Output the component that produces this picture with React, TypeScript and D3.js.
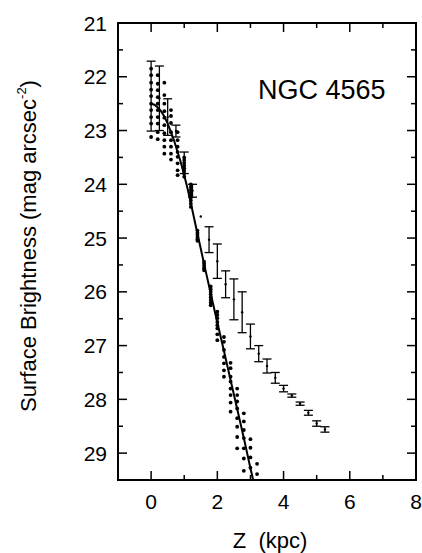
import React from "react";
import * as d3 from "d3";

// Error-bar series (Z in kpc, surface brightness, half error)
const barZ = [0, 0.25, 0.5, 0.75, 1.0, 1.25, 1.5, 1.75, 2.0, 2.25, 2.5, 2.75, 3.0, 3.25, 3.5, 3.75, 4.0, 4.25, 4.5, 4.75, 5.0, 5.25];
const barMu = [22.36, 22.4, 22.75, 23.01, 23.6, 24.12, 24.6, 25.03, 25.43, 25.86, 26.14, 26.38, 26.83, 27.15, 27.38, 27.6, 27.8, 27.93, 28.08, 28.25, 28.45, 28.56];
const barErr = [0.65, 0.6, 0.34, 0.11, 0.2, 0.12, 0, 0.24, 0.32, 0.25, 0.38, 0.38, 0.23, 0.15, 0.13, 0.1, 0.06, 0.03, 0.03, 0.045, 0.05, 0.05];

// Dot series: columns of points at each Z
const dotColZ = [0, 0.2, 0.4, 0.6, 0.8, 1.0, 1.2, 1.4, 1.6, 1.8, 2.0, 2.2, 2.4, 2.6, 2.8, 3.0, 3.2];
const dotColMu: number[][] = [
  [21.85, 21.97, 22.11, 22.24, 22.36, 22.5, 22.62, 22.75, 22.87, 23.12],
  [21.97, 22.13, 22.25, 22.38, 22.5, 22.62, 22.75, 22.87, 23.03, 23.16],
  [22.11, 22.34, 22.5, 22.64, 22.76, 22.9, 23.05, 23.18, 23.3, 23.43],
  [22.62, 22.73, 22.86, 23.03, 23.18, 23.3, 23.43, 23.54],
  [23.03, 23.18, 23.3, 23.4, 23.49, 23.61, 23.74, 23.83],
  [23.5, 23.55, 23.6, 23.65, 23.7, 23.75, 23.8, 23.86],
  [24.0, 24.05, 24.1, 24.15, 24.2, 24.25, 24.3, 24.36, 24.42],
  [24.86, 24.9, 24.94, 24.98, 25.02, 25.05],
  [25.44, 25.48, 25.52, 25.56, 25.6],
  [25.9, 25.95, 26.0, 26.05, 26.1, 26.15, 26.2, 26.25],
  [26.37, 26.43, 26.49, 26.56, 26.62, 26.68, 26.79, 26.9],
  [26.84, 26.93, 27.08, 27.21, 27.33, 27.46, 27.58],
  [27.32, 27.42, 27.58, 27.67, 27.8, 27.92, 28.06, 28.23],
  [27.8, 27.92, 28.04, 28.17, 28.35, 28.51, 28.7, 28.91],
  [28.26, 28.41, 28.57, 28.72, 28.91, 29.1, 29.33],
  [28.74, 28.9, 29.08, 29.27],
  [29.2, 29.39],
];

// Model curve
const lineZ = [0, 0.1, 0.2, 0.3, 0.4, 0.5, 0.6, 0.7, 0.8, 0.9, 1.0, 1.1, 1.2, 1.4, 1.6, 1.8, 2.0, 2.2, 2.4, 2.6, 2.8, 3.0, 3.1];
const lineMu = [22.5, 22.52, 22.57, 22.64, 22.74, 22.87, 23.03, 23.2, 23.4, 23.6, 23.83, 24.08, 24.35, 24.92, 25.48, 26.03, 26.57, 27.1, 27.64, 28.18, 28.72, 29.28, 29.55];

const xMajor = [0, 2, 4, 6, 8];
const xMinor = [-1, 1, 3, 5, 7];
const yMajor = [21, 22, 23, 24, 25, 26, 27, 28, 29];
const yMinor = [21.5, 22.5, 23.5, 24.5, 25.5, 26.5, 27.5, 28.5, 29.5];

const W = 422, H = 553;
const L = 118, R = 416, T = 23, B = 480;
const FONT = "'Liberation Sans', Arial, Helvetica, sans-serif";

export default function App() {
  const x = d3.scaleLinear().domain([-1, 8]).range([L, R]);
  const y = d3.scaleLinear().domain([21, 29.5]).range([T, B]);
  const line = d3.line<number>().x((_, i) => x(lineZ[i])).y((d) => y(d));
  const dots: { z: number; m: number }[] = [];
  dotColZ.forEach((z, i) => dotColMu[i].forEach((m) => dots.push({ z, m })));
  const major = 9, minor = 5;
  const cap = 4.5;
  return (
    <svg width={W} height={H} style={{ position: "absolute", left: 0, top: 0, background: "#fff" }} fontFamily={FONT}>
      <defs>
        <clipPath id="plot">
          <rect x={L} y={T} width={R - L} height={B - T} />
        </clipPath>
      </defs>
      <rect width={W} height={H} fill="#fff" />
      <g clipPath="url(#plot)">
        <path d={line(lineMu) || ""} fill="none" stroke="#000" strokeWidth={2} />
        {dots.map((d, i) => (
          <circle key={i} cx={x(d.z)} cy={y(d.m)} r={1.9} fill="#000" />
        ))}
        {barZ.map((z, i) => {
          const cx = x(z);
          const y1 = y(barMu[i] - barErr[i]);
          const y2 = y(barMu[i] + barErr[i]);
          return (
            <g key={i} stroke="#000" strokeWidth={1.3}>
              {barErr[i] > 0 && (
                <>
                  <line x1={cx} x2={cx} y1={y1} y2={y2} />
                  <line x1={cx - cap} x2={cx + cap} y1={y1} y2={y1} />
                  <line x1={cx - cap} x2={cx + cap} y1={y2} y2={y2} />
                </>
              )}
              <circle cx={cx} cy={y(barMu[i])} r={1.2} fill="#000" stroke="none" />
            </g>
          );
        })}
      </g>
      {/* frame */}
      <rect x={L} y={T} width={R - L} height={B - T} fill="none" stroke="#000" strokeWidth={2} />
      <g stroke="#000" strokeWidth={1.5}>
        {xMajor.map((v) => (
          <g key={"xm" + v}>
            <line x1={x(v)} x2={x(v)} y1={B} y2={B - major} />
            <line x1={x(v)} x2={x(v)} y1={T} y2={T + major} />
          </g>
        ))}
        {xMinor.map((v) => (
          <g key={"xn" + v}>
            <line x1={x(v)} x2={x(v)} y1={B} y2={B - minor} />
            <line x1={x(v)} x2={x(v)} y1={T} y2={T + minor} />
          </g>
        ))}
        {yMajor.map((v) => (
          <g key={"ym" + v}>
            <line x1={L} x2={L + major} y1={y(v)} y2={y(v)} />
            <line x1={R} x2={R - major} y1={y(v)} y2={y(v)} />
          </g>
        ))}
        {yMinor.map((v) => (
          <g key={"yn" + v}>
            <line x1={L} x2={L + minor} y1={y(v)} y2={y(v)} />
            <line x1={R} x2={R - minor} y1={y(v)} y2={y(v)} />
          </g>
        ))}
      </g>
      {xMajor.map((v) => (
        <text key={"xl" + v} x={x(v)} y={509} fontSize={21} textAnchor="middle" fill="#000">
          {v}
        </text>
      ))}
      {yMajor.map((v) => (
        <text key={"yl" + v} x={107} y={y(v)} dy="0.36em" fontSize={21} textAnchor="end" fill="#000">
          {v}
        </text>
      ))}
      <text x={270} y={548} fontSize={22} textAnchor="middle" fill="#000" style={{ whiteSpace: "pre" }}>
        {"Z  (kpc)"}
      </text>
      <text transform="translate(36,246) rotate(-90)" fontSize={22} textAnchor="middle" fill="#000">
        Surface Brightness (mag arcsec
        <tspan fontSize={13} dy={-10}>-2</tspan>
        <tspan dy={10}>)</tspan>
      </text>
      <text x={258} y={99} fontSize={27} fill="#000">
        NGC 4565
      </text>
    </svg>
  );
}
